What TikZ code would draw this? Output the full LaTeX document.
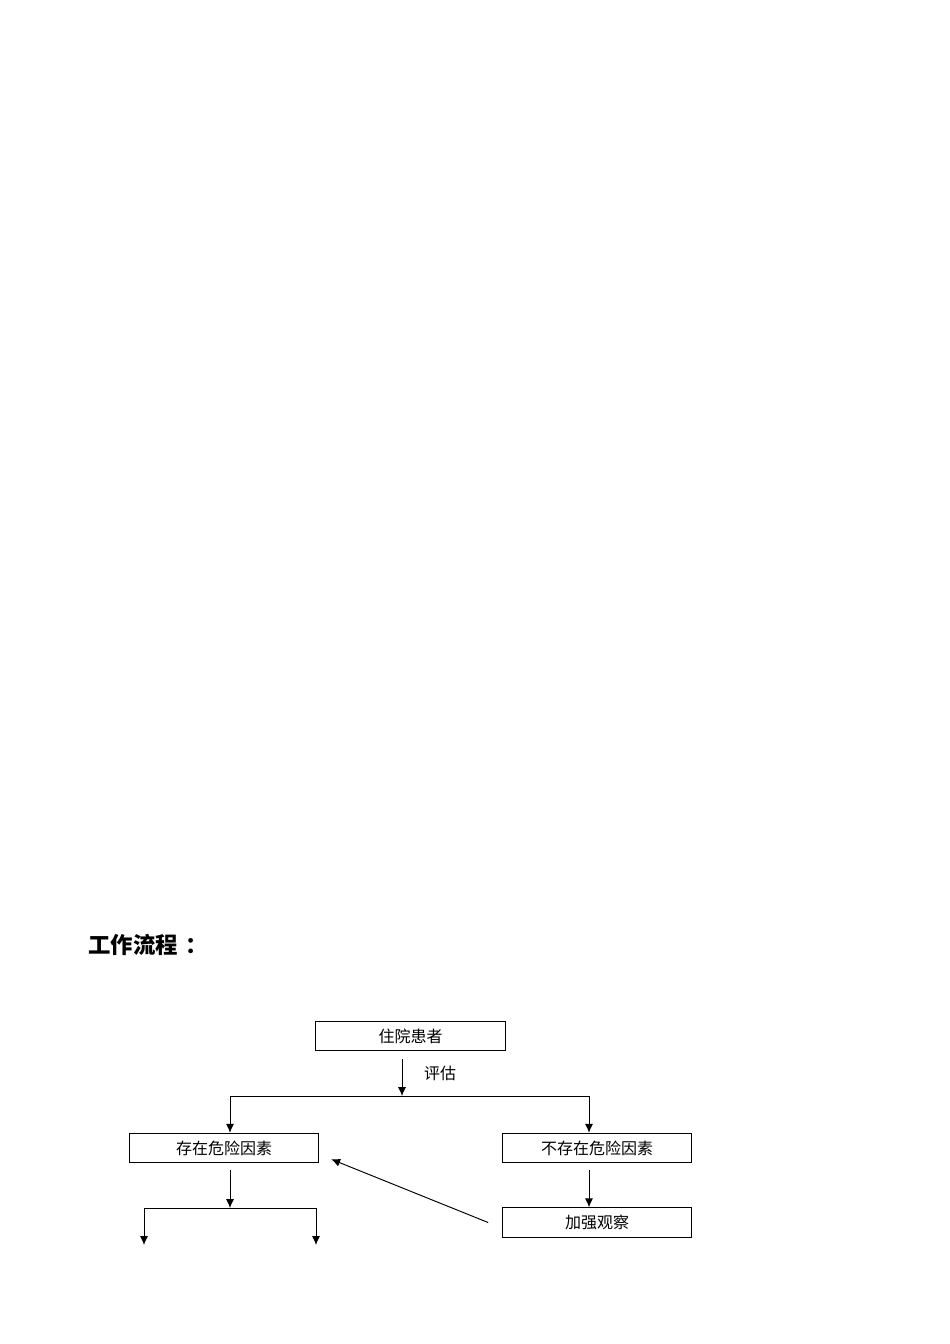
\documentclass[tikz,border=0pt]{standalone}
\usepackage{fontspec}
\setmainfont{Noto Sans CJK SC}
\usepackage{tikz}
\usetikzlibrary{arrows.meta}

\begin{document}
\begin{tikzpicture}[x=0.625pt,y=-0.625pt,
	box/.style={draw,line width=0.6pt,minimum width=118.5pt,minimum height=18.5pt,inner sep=0pt,font=\fontsize{10pt}{12pt}\selectfont},
	arr/.style={-{Latex[length=5.5pt,width=5pt]},line width=0.6pt}]
	\useasboundingbox[fill=white] (0,0) rectangle (950,1344);
	\node[anchor=west,inner sep=0pt,font=\fontsize{14pt}{17pt}\selectfont\bfseries] (title) at (88,945) {工作流程\kern5pt：};
	\node[box] (patient) at (410.5,1036) {住院患者};
	\node[box] (risk) at (224,1148) {存在危险因素};
	\node[box] (norisk) at (597,1148) {不存在危险因素};
	\node[box] (observe) at (597,1222.5) {加强观察};
	\coordinate (fork) at (402,1096);
	\coordinate (lt) at (230,1096);
	\coordinate (rt) at (589,1096);
	\coordinate (fork2) at (230,1208);
	\coordinate (ll) at (144,1208);
	\coordinate (lr) at (316,1208);
	\coordinate (llend) at (144,1245);
	\coordinate (lrend) at (316,1245);
	\draw[arr] ([yshift=-5pt]patient.south -| fork) -- (fork);
	\node[inner sep=0pt,font=\fontsize{10pt}{12pt}\selectfont] (assess) at (440,1073) {评估};
	\draw[line width=0.6pt] (lt) -- (rt);
	\draw[arr] (lt) -- (lt |- risk.north);
	\draw[arr] (rt) -- (rt |- norisk.north);
	\draw[arr] ([yshift=-4.5pt]risk.south -| fork2) -- (fork2);
	\draw[line width=0.6pt] (ll) -- (lr);
	\draw[arr] (ll) -- (llend);
	\draw[arr] (lr) -- (lrend);
	\draw[arr] ([yshift=-4.5pt]norisk.south -| rt) -- (observe.north -| rt);
	\draw[arr] ([xshift=-8.5pt]observe.west) -- ([xshift=7.5pt,yshift=2.5pt]risk.south east);
\end{tikzpicture}
\end{document}
